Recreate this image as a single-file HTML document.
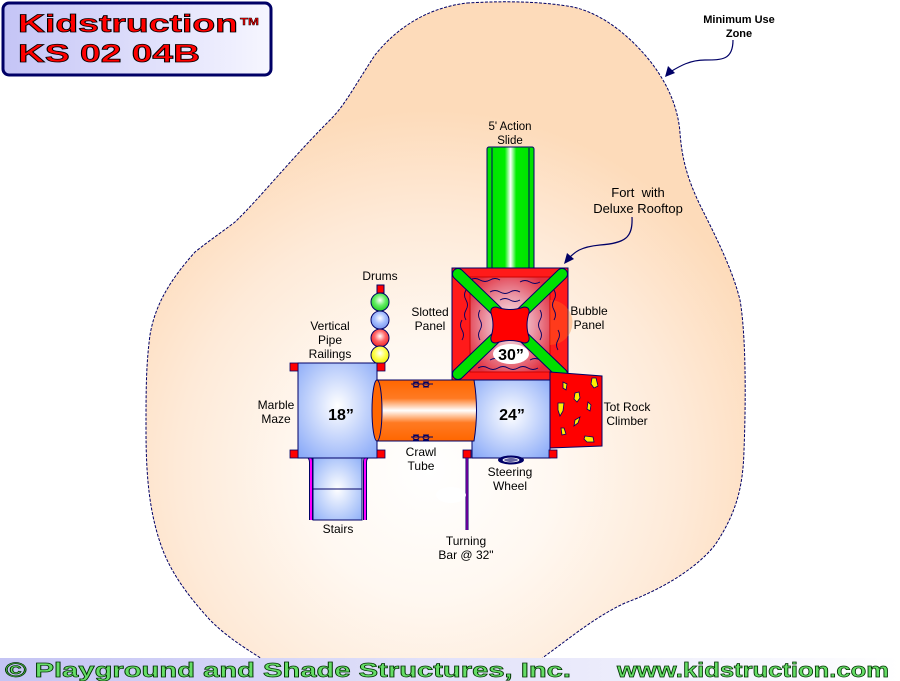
<!DOCTYPE html>
<html><head><meta charset="utf-8"><style>
html,body{margin:0;padding:0;background:#fff;}
svg{display:block;}
text{font-family:"Liberation Sans",Arial,sans-serif;}
</style></head><body>
<svg width="900" height="681" viewBox="0 0 900 681" xmlns="http://www.w3.org/2000/svg">
<defs>
<radialGradient id="blob" gradientUnits="userSpaceOnUse" cx="430" cy="470" r="360">
<stop offset="0" stop-color="#ffffff"/><stop offset="0.35" stop-color="#fff8f1"/><stop offset="0.7" stop-color="#feead8"/><stop offset="1" stop-color="#fddbba"/>
</radialGradient>
<linearGradient id="title" x1="0" x2="1" y1="0" y2="0"><stop offset="0" stop-color="#c4c4f6"/><stop offset="1" stop-color="#f6f6ff"/></linearGradient>
<linearGradient id="foot" x1="0" x2="1" y1="0" y2="0"><stop offset="0" stop-color="#c4c4f4"/><stop offset="1" stop-color="#ffffff"/></linearGradient>
<linearGradient id="slide" x1="0" x2="1"><stop offset="0" stop-color="#00e000"/><stop offset="0.38" stop-color="#00ee00"/><stop offset="0.5" stop-color="#ffffff"/><stop offset="0.62" stop-color="#00ee00"/><stop offset="1" stop-color="#00e000"/></linearGradient>
<radialGradient id="blue" cx="0.5" cy="0.45" r="0.7"><stop offset="0" stop-color="#ffffff"/><stop offset="1" stop-color="#8aaaf8"/></radialGradient>
<radialGradient id="stair" cx="0.5" cy="0.5" r="0.7"><stop offset="0" stop-color="#ffffff"/><stop offset="1" stop-color="#8fb0f8"/></radialGradient>
<linearGradient id="tube" x1="0" x2="0" y1="0" y2="1"><stop offset="0" stop-color="#ff6600"/><stop offset="0.3" stop-color="#ff7a22"/><stop offset="0.5" stop-color="#ffffff"/><stop offset="0.7" stop-color="#ff7a22"/><stop offset="1" stop-color="#ff6600"/></linearGradient>
<radialGradient id="fort" cx="0.5" cy="0.5" r="0.6"><stop offset="0" stop-color="#ffffff"/><stop offset="0.5" stop-color="#eaa0b0"/><stop offset="1" stop-color="#e03040"/></radialGradient>
<radialGradient id="gball" cx="0.5" cy="0.4" r="0.6"><stop offset="0" stop-color="#ffffff"/><stop offset="0.5" stop-color="#66ee66"/><stop offset="1" stop-color="#22cc22"/></radialGradient>
<radialGradient id="bball" cx="0.5" cy="0.4" r="0.6"><stop offset="0" stop-color="#ffffff"/><stop offset="0.5" stop-color="#a8c0ff"/><stop offset="1" stop-color="#7a98ee"/></radialGradient>
<radialGradient id="rball" cx="0.5" cy="0.4" r="0.6"><stop offset="0" stop-color="#ffffff"/><stop offset="0.5" stop-color="#ff6666"/><stop offset="1" stop-color="#ee2222"/></radialGradient>
<radialGradient id="yball" cx="0.5" cy="0.4" r="0.6"><stop offset="0" stop-color="#ffffff"/><stop offset="0.5" stop-color="#ffff55"/><stop offset="1" stop-color="#eeee00"/></radialGradient>
</defs>

<!-- Minimum use zone blob -->
<path d="M467,3 C500,1 540,1 573,7 C600,13 625,32 645,55 C665,78 678,105 680,133 C682,160 688,180 700,205 C715,235 732,268 740,300 C746,335 746,400 744,450 C743,490 735,515 715,545 C695,570 660,590 625,603 C595,617 570,638 545,656 L520,681 L285,681 L259,657 C240,645 225,635 210,620 C190,598 172,575 162,548 C150,515 146,480 146,430 C146,390 146,365 150,335 C155,305 170,280 195,252 C210,240 222,232 235,222 C260,198 290,160 330,120 C345,105 352,90 375,55 C395,30 425,8 467,3 Z" fill="url(#blob)" stroke="#000066" stroke-width="1" stroke-dasharray="3,1.5"/>

<!-- Title box -->
<rect x="3" y="3" width="268" height="72" rx="6" fill="url(#title)" stroke="#000066" stroke-width="3"/>
<text x="18" y="32" font-size="25" font-weight="bold" fill="#ff0000" stroke="#000" stroke-width="0.8" textLength="220" lengthAdjust="spacingAndGlyphs">Kidstruction</text>
<text x="240" y="25" font-size="10" font-weight="bold" fill="#ff0000" stroke="#000" stroke-width="0.4" textLength="19" lengthAdjust="spacingAndGlyphs">TM</text>
<text x="18" y="62" font-size="25" font-weight="bold" fill="#ff0000" stroke="#000" stroke-width="0.8" textLength="182" lengthAdjust="spacingAndGlyphs">KS 02 04B</text>

<!-- Minimum Use Zone label + arrow -->
<text x="739" y="23" font-size="11" font-weight="bold" text-anchor="middle">Minimum Use</text>
<text x="739" y="37" font-size="11" font-weight="bold" text-anchor="middle">Zone</text>
<path d="M733,40 C733,60 722,60 705,60 C690,60 680,66 670,72" fill="none" stroke="#000066" stroke-width="1.2"/>
<path d="M665,77 L668,66 L675,73 Z" fill="#000066"/>

<!-- Slide -->
<rect x="487" y="147" width="47" height="124" rx="2" fill="url(#slide)" stroke="#000066" stroke-width="1"/>
<line x1="492" y1="148" x2="492" y2="270" stroke="#000066" stroke-width="1"/>
<line x1="529" y1="148" x2="529" y2="270" stroke="#000066" stroke-width="1"/>
<text x="510" y="130" font-size="11.5" text-anchor="middle">5' Action</text>
<text x="510" y="144" font-size="11.5" text-anchor="middle">Slide</text>

<!-- Fort label + arrow -->
<text x="638" y="197" font-size="13" text-anchor="middle" xml:space="preserve">Fort  with</text>
<text x="638" y="213" font-size="13" text-anchor="middle">Deluxe Rooftop</text>
<path d="M632,217 C633,238 625,243 600,245 C580,247 575,252 569,258" fill="none" stroke="#000066" stroke-width="1.2"/>
<path d="M564,264 L567,253 L574,259 Z" fill="#000066"/>

<!-- Fort -->
<rect x="452" y="268" width="116" height="112" fill="#ff1a1a" stroke="#000066" stroke-width="1"/>
<path d="M470,277 L550,277 L550,372 L470,372 Z" fill="url(#fort)" stroke="#cc0000" stroke-width="1" opacity="0.95"/>
<path d="M550,300 A22,22 0 0 1 550,345 Z" fill="#ff7a20" opacity="0.35"/>
<g fill="none" stroke="#000066" stroke-width="0.9">
<path d="M470,280 q5,-3 10,0 t10,0 t10,0 M520,282 q5,-3 10,0 t10,0"/>
<path d="M490,292 q5,-3 10,0 t10,0 t10,0 M500,300 q5,-3 10,0 t10,0"/>
<path d="M466,290 q-3,5 0,10 t0,10 t0,10 M462,320 q-3,5 0,10 t0,10"/>
<path d="M480,310 q-3,5 0,10 t0,10 t0,10 M540,310 q3,5 0,10 t0,10 t0,10"/>
<path d="M554,290 q3,5 0,10 t0,10 t0,10 M558,330 q3,5 0,10 t0,10"/>
<path d="M478,368 q5,-3 10,0 t10,0 t10,0 t10,0 t10,0 t10,0"/>
<path d="M490,360 q5,-3 10,0 M530,360 q5,-3 10,0"/>
</g>
<g stroke-linecap="round">
<line x1="458" y1="274" x2="562" y2="374" stroke="#000066" stroke-width="12"/>
<line x1="562" y1="274" x2="458" y2="374" stroke="#000066" stroke-width="12"/>
<line x1="458" y1="274" x2="562" y2="374" stroke="#00e000" stroke-width="10"/>
<line x1="562" y1="274" x2="458" y2="374" stroke="#00e000" stroke-width="10"/>
</g>
<path d="M496,307 Q510,312 524,307 Q530,307 529,313 Q525,325 529,337 Q530,343 524,343 Q510,338 496,343 Q490,343 491,337 Q495,325 491,313 Q490,307 496,307 Z" fill="#ff0000" stroke="#000066" stroke-width="1"/>
<ellipse cx="511" cy="354" rx="18" ry="10" fill="#ffffff"/>
<text x="511" y="360" font-size="16" font-weight="bold" text-anchor="middle">30”</text>
<text x="430" y="316" font-size="12" text-anchor="middle">Slotted</text>
<text x="430" y="330" font-size="12" text-anchor="middle">Panel</text>
<text x="589" y="315" font-size="12" text-anchor="middle">Bubble</text>
<text x="589" y="329" font-size="12" text-anchor="middle">Panel</text>

<!-- Drums -->
<text x="380" y="280" font-size="12" text-anchor="middle">Drums</text>
<rect x="377" y="285" width="7" height="8" fill="#ff0000" stroke="#000066" stroke-width="1"/>
<circle cx="380" cy="302" r="9" fill="url(#gball)" stroke="#000066" stroke-width="1"/>
<circle cx="380" cy="320" r="9" fill="url(#bball)" stroke="#000066" stroke-width="1"/>
<circle cx="380" cy="338" r="9" fill="url(#rball)" stroke="#000066" stroke-width="1"/>
<circle cx="380" cy="355" r="9" fill="url(#yball)" stroke="#000066" stroke-width="1"/>
<text x="330" y="330" font-size="12" text-anchor="middle">Vertical</text>
<text x="330" y="344" font-size="12" text-anchor="middle">Pipe</text>
<text x="330" y="358" font-size="12" text-anchor="middle">Railings</text>

<!-- Stairs -->
<rect x="313" y="458" width="49" height="62" fill="url(#stair)" stroke="#000066" stroke-width="1"/>
<line x1="313" y1="489" x2="362" y2="489" stroke="#000066" stroke-width="1"/>
<path d="M298,455 L305,455 Q311,456 311,462 L311,520" fill="none" stroke="#000066" stroke-width="4"/>
<path d="M298,455 L305,455 Q311,456 311,462 L311,520" fill="none" stroke="#ff00ff" stroke-width="2"/>
<path d="M378,455 L371,455 Q365,456 365,462 L365,520" fill="none" stroke="#000066" stroke-width="4"/>
<path d="M378,455 L371,455 Q365,456 365,462 L365,520" fill="none" stroke="#ff00ff" stroke-width="2"/>
<text x="338" y="533" font-size="12" text-anchor="middle">Stairs</text>

<!-- 18 box -->
<rect x="298" y="363" width="79" height="95" fill="url(#blue)" stroke="#000066" stroke-width="1"/>
<rect x="290" y="363" width="8" height="8" fill="#ff0000" stroke="#000066" stroke-width="0.8"/>
<rect x="377" y="363" width="8" height="8" fill="#ff0000" stroke="#000066" stroke-width="0.8"/>
<rect x="290" y="450" width="8" height="8" fill="#ff0000" stroke="#000066" stroke-width="0.8"/>
<rect x="377" y="450" width="8" height="8" fill="#ff0000" stroke="#000066" stroke-width="0.8"/>
<text x="341" y="420" font-size="16" font-weight="bold" text-anchor="middle">18”</text>
<text x="276" y="409" font-size="12" text-anchor="middle">Marble</text>
<text x="276" y="423" font-size="12" text-anchor="middle">Maze</text>

<!-- 24 box -->
<rect x="472" y="380" width="78" height="78" fill="url(#blue)" stroke="#000066" stroke-width="1"/>
<rect x="463" y="450" width="8" height="8" fill="#ff0000" stroke="#000066" stroke-width="0.8"/>
<rect x="549" y="450" width="8" height="8" fill="#ff0000" stroke="#000066" stroke-width="0.8"/>
<text x="512" y="420" font-size="16" font-weight="bold" text-anchor="middle">24”</text>

<!-- Crawl tube -->
<path d="M377,380 L474,380 Q479,410 474,441 L377,441 Z" fill="url(#tube)" stroke="#000066" stroke-width="1"/>
<ellipse cx="377" cy="410.5" rx="5" ry="30.5" fill="#ff6600" stroke="#000066" stroke-width="1"/>
<g fill="none" stroke="#000066" stroke-width="0.9">
<path d="M411,384 h22 M413,382 h6 M423,382 h6 M413,387 h6 M423,387 h6"/>
<ellipse cx="416" cy="384.5" rx="3" ry="2"/><ellipse cx="426" cy="384.5" rx="3" ry="2"/>
<path d="M411,437 h22 M413,435 h6 M423,435 h6 M413,440 h6 M423,440 h6"/>
<ellipse cx="416" cy="437.5" rx="3" ry="2"/><ellipse cx="426" cy="437.5" rx="3" ry="2"/>
</g>
<text x="421" y="456" font-size="12" text-anchor="middle">Crawl</text>
<text x="421" y="470" font-size="12" text-anchor="middle">Tube</text>

<!-- Tot rock climber -->
<path d="M550,372 L602,376 L602,446 L550,448 Z" fill="#ff0000" stroke="#000066" stroke-width="1"/>
<g fill="#ffee00" stroke="#000066" stroke-width="0.8">
<path d="M592,378 l4,0 l2,8 l-4,2 l-3,-4 Z"/>
<path d="M563,382 l4,2 l-1,6 l-3,-2 Z"/>
<path d="M575,393 l4,-1 l1,6 l-3,4 l-3,-3 Z"/>
<path d="M558,403 l6,0 l-1,8 l-3,5 l-2,-6 Z"/>
<path d="M588,402 l3,3 l-1,6 l-3,-2 Z"/>
<path d="M575,420 l5,-3 l-2,6 l-4,3 Z"/>
<path d="M561,428 l3,0 l2,6 l-4,1 Z"/>
<path d="M585,436 l8,1 l1,5 l-7,0 l-3,-3 Z"/>
</g>
<text x="627" y="411" font-size="12" text-anchor="middle">Tot Rock</text>
<text x="627" y="425" font-size="12" text-anchor="middle">Climber</text>

<!-- Steering wheel -->
<ellipse cx="511" cy="460" rx="13" ry="4.5" fill="#000066"/>
<ellipse cx="511" cy="460" rx="8" ry="2" fill="none" stroke="#ffffff" stroke-width="0.8"/>
<line x1="503" y1="460" x2="519" y2="460" stroke="#ffffff" stroke-width="0.8"/>
<text x="510" y="476" font-size="12" text-anchor="middle">Steering</text>
<text x="510" y="490" font-size="12" text-anchor="middle">Wheel</text>

<!-- Turning bar -->
<line x1="467" y1="458" x2="467" y2="530" stroke="#000066" stroke-width="3"/>
<line x1="467" y1="458" x2="467" y2="530" stroke="#cc00cc" stroke-width="1"/>
<ellipse cx="451" cy="495" rx="15" ry="8" fill="#ffffff"/>
<text x="466" y="545" font-size="12" text-anchor="middle">Turning</text>
<text x="466" y="559" font-size="12" text-anchor="middle">Bar @ 32"</text>

<!-- Footer -->
<rect x="0" y="658" width="900" height="23" fill="url(#foot)"/>
<text x="5" y="677" font-size="20" font-weight="bold" fill="#66dd66" stroke="#003300" stroke-width="0.7" textLength="566" lengthAdjust="spacingAndGlyphs">© Playground and Shade Structures, Inc.</text>
<text x="617" y="677" font-size="20" font-weight="bold" fill="#66dd66" stroke="#003300" stroke-width="0.7" textLength="272" lengthAdjust="spacingAndGlyphs">www.kidstruction.com</text>
</svg>
</body></html>
